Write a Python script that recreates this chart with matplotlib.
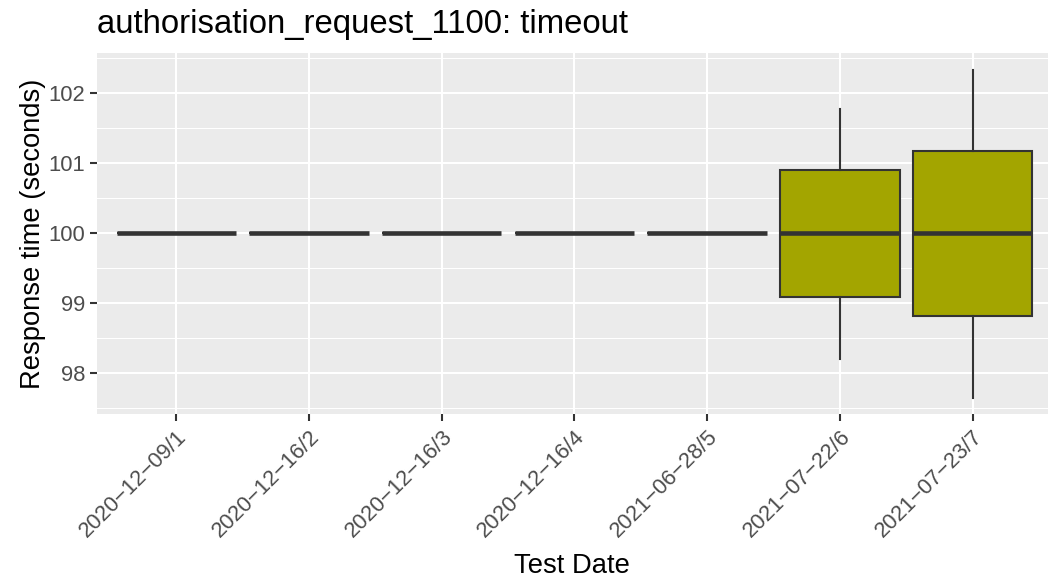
import matplotlib
matplotlib.use("Agg")
import matplotlib.pyplot as plt

categories = ["2020\u221212\u221209/1", "2020\u221212\u221216/2", "2020\u221212\u221216/3",
              "2020\u221212\u221216/4", "2021\u221206\u221228/5", "2021\u221207\u221222/6",
              "2021\u221207\u221223/7"]
medians = [100, 100, 100, 100, 100, 100.0, 100.0]
q1 = [100, 100, 100, 100, 100, 99.09, 98.82]
q3 = [100, 100, 100, 100, 100, 100.90, 101.17]
whislo = [100, 100, 100, 100, 100, 98.20, 97.65]
whishi = [100, 100, 100, 100, 100, 101.78, 102.34]
yticks = [98, 99, 100, 101, 102]

plt.rcParams['font.family'] = ['Liberation Sans', 'DejaVu Sans']

fig = plt.figure(figsize=(10.48, 5.77), dpi=100)
W, H = 1048, 577
left, right, top, bottom = 96.7, 1048, 52.7, 414
ax = fig.add_axes([left / W, 1 - bottom / H, (right - left) / W, (bottom - top) / H])
ax.set_facecolor('#EBEBEB')
for s in ax.spines.values():
    s.set_visible(False)

pxu = 132.7
ax.set_xlim(0.4, 0.4 + (right - left) / pxu)
ax.set_ylim(97.419, 102.58)

# grid
for y in yticks:
    ax.axhline(y, color='white', lw=1.5, zorder=0)
for y in [97.5, 98.5, 99.5, 100.5, 101.5, 102.5]:
    ax.axhline(y, color='white', lw=0.75, zorder=0)
for i in range(len(categories)):
    ax.axvline(i + 1, color='white', lw=1.5, zorder=0)

stats = []
for i in range(len(categories)):
    stats.append(dict(med=medians[i], q1=q1[i], q3=q3[i], whislo=whislo[i], whishi=whishi[i], label=categories[i]))

ax.bxp(stats, positions=list(range(1, len(categories) + 1)), widths=0.9, patch_artist=True,
       showcaps=False, showfliers=False,
       boxprops=dict(facecolor='#A3A500', edgecolor='#333333', linewidth=1.5),
       medianprops=dict(color='#333333', linewidth=3.3, solid_capstyle='butt'),
       whiskerprops=dict(color='#333333', linewidth=1.5), zorder=2)

ax.set_xticks(range(1, len(categories) + 1))
ax.set_xticklabels(categories, rotation=45, ha='right', va='top', rotation_mode='anchor')
ax.set_yticks(yticks)
ax.set_yticklabels([str(v) for v in yticks])
ax.tick_params(axis='both', colors='#333333', length=5, width=1.5, labelsize=15.8, labelcolor='#4D4D4D', pad=3)
ax.tick_params(axis='x', pad=4)

ax.set_xlabel('Test Date', fontsize=19.7, color='black', labelpad=8)
ax.set_ylabel('Response time (seconds)', fontsize=19.7, color='black', labelpad=2)
ax.set_title('authorisation_request_1100: timeout', fontsize=23.7, color='black', loc='left', pad=14)

fig.savefig('out.png', dpi=100)
